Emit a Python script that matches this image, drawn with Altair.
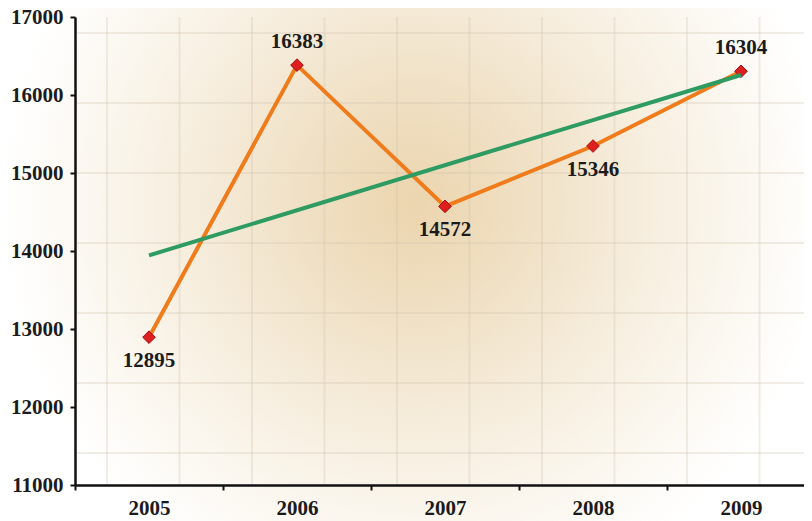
import altair as alt
import pandas as pd

years = [2005, 2006, 2007, 2008, 2009]
values = [12895, 16383, 14572, 15346, 16304]
y_ticks = [11000, 12000, 13000, 14000, 15000, 16000, 17000]
above_years = [2006, 2009]
# decorative background grid (index of each faint line)
grid_cols = list(range(10))
grid_rows = list(range(7))

df = pd.DataFrame({"year": years, "value": values})

FONT = "Liberation Serif"
TXT = "#1b1b1b"

axis_common = dict(
    title=None, grid=False, zindex=1,
    domainColor="#111111", domainWidth=2.5,
    tickColor="#111111", tickWidth=2, tickSize=5,
    labelFont=FONT, labelFontWeight="bold", labelFontSize=21, labelColor=TXT,
)

xenc = alt.X(
    "year:O",
    scale=alt.Scale(domain=years, range=[0, 740], paddingInner=0, paddingOuter=0),
    axis=alt.Axis(labelAngle=0, tickBand="extent", labelPadding=7, **axis_common),
)
yenc = alt.Y(
    "value:Q",
    scale=alt.Scale(domain=[11000, 17000], nice=False, zero=False),
    axis=alt.Axis(values=y_ticks, format="d", labelPadding=7, **axis_common),
)

base = alt.Chart(df).encode(x=xenc, y=yenc)

line = base.mark_line(color="#ef7b1a", strokeWidth=4)
pts = base.mark_point(shape="diamond", filled=True, fill="#de1f1f", stroke="#9e1010",
                      strokeWidth=1, size=160, opacity=1)
trend = base.transform_regression("year", "value").mark_line(color="#2e9b62", strokeWidth=4)

above_test = " || ".join(f"datum.year == {y}" for y in above_years)
txt_kw = dict(baseline="middle", font=FONT, fontWeight="bold", fontSize=21, color=TXT)
above = base.transform_filter(above_test).mark_text(dy=-23, **txt_kw).encode(
    text=alt.Text("value:Q", format="d"))
below = base.transform_filter(f"!({above_test})").mark_text(dy=24, **txt_kw).encode(
    text=alt.Text("value:Q", format="d"))

main = alt.layer(line, pts, trend, above, below)

gradient = {
    "gradient": "radial",
    "x1": 0.511, "y1": 0.423, "r1": 0,
    "x2": 0.511, "y2": 0.423, "r2": 0.58,
    "stops": [
        {"offset": 0, "color": "#ebd5ae"},
        {"offset": 0.2, "color": "#efdec0"},
        {"offset": 0.45, "color": "#f5ebd9"},
        {"offset": 0.7, "color": "#fbf7ef"},
        {"offset": 0.9, "color": "#ffffff"},
        {"offset": 1, "color": "#ffffff"},
    ],
}

bg = alt.Chart(alt.Data(values=[{"a": 1}])).mark_rect(color=gradient).encode(
    x=alt.value(-67), x2=alt.value(729), y=alt.value(-9), y2=alt.value(504))

grid_style = dict(color="#cfc3ae", strokeWidth=2, opacity=0.3)
vgrid = alt.Chart(pd.DataFrame({"gx": grid_cols})).mark_rule(**grid_style).encode(
    x=alt.X("gx:Q", scale=alt.Scale(domain=[-0.4414, 9.614], nice=False, zero=False), axis=None))
hgrid = alt.Chart(pd.DataFrame({"gy": grid_rows})).mark_rule(**grid_style).encode(
    y=alt.Y("gy:Q", scale=alt.Scale(domain=[-0.2286, 6.457], nice=False, zero=False, reverse=True),
            axis=None))

chart = (
    alt.layer(bg, alt.layer(vgrid, hgrid), main)
    .resolve_scale(x="independent", y="independent")
    .properties(width=729, height=468,
                padding={"left": 67, "top": 9, "right": 0, "bottom": 36},
                autosize=alt.AutoSizeParams(type="none"))
    .configure_view(stroke=None)
    .configure(background="white")
)

chart.save("out.html", embed_options={"renderer": "svg", "actions": False})
